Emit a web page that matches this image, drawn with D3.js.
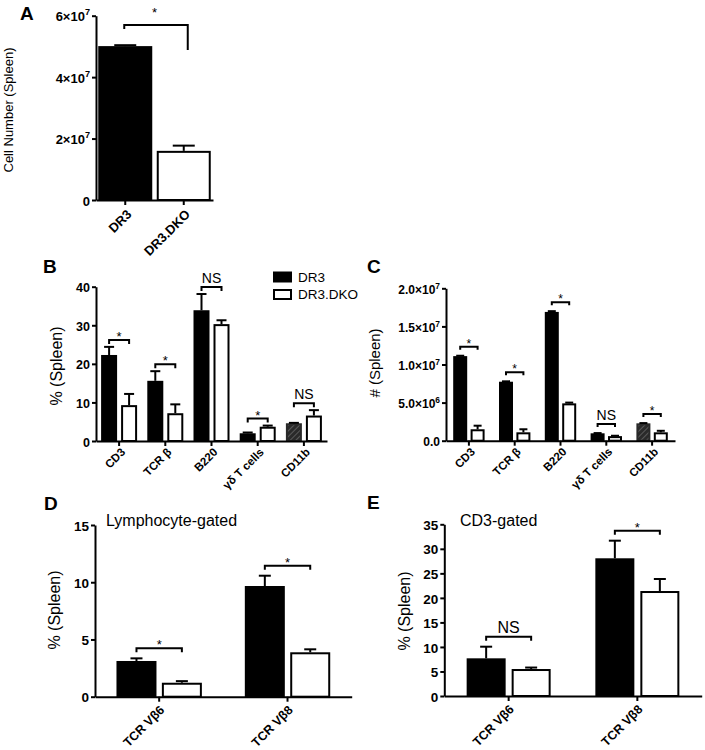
<!DOCTYPE html>
<html>
<head>
<meta charset="utf-8">
<script src="https://cdn.jsdelivr.net/npm/d3@7"></script>
<style>
  html, body { margin: 0; padding: 0; background: #fff; }
  svg { display: block; }
</style>
</head>
<body>
<svg id="chart" width="705" height="750"></svg>
<script>
// ---------------- DATA ----------------
const groups = ["DR3", "DR3.DKO"];

// Panel A
const catsA = ["DR3", "DR3.DKO"];
const valuesA = [5.01e7, 1.60e7];
const errorsA = [0.03e7, 0.17e7];
const ticksA = [0, 2e7, 4e7, 6e7];
const tickLabelsA = ["0", "2×10^7", "4×10^7", "6×10^7"];
const sigA = "*";

// Panel B (% of spleen)
const catsBC = ["CD3", "TCR β", "B220", "γδ T cells", "CD11b"];
const dr3B = [22.3, 15.6, 33.9, 2.0, 4.6];
const dr3ErrB = [2.1, 2.5, 4.2, 0.2, 0.1];
const dkoB = [9.3, 7.2, 30.3, 3.7, 6.6];
const dkoErrB = [2.9, 2.3, 1.0, 0.3, 1.4];
const sigB = ["*", "*", "NS", "*", "NS"];
const ticksB = [0, 10, 20, 30, 40];
const tickLabelsB = ["0", "10", "20", "30", "40"];

// Panel C (# spleen)
const dr3C = [1.11e7, 7.74e6, 1.69e7, 9.7e5, 2.28e6];
const dr3ErrC = [5e4, 5e4, 1e5, 3e4, 3e4];
const dkoC = [1.5e6, 1.1e6, 4.9e6, 6.0e5, 1.1e6];
const dkoErrC = [4.7e5, 4.0e5, 1e5, 5e4, 2e5];
const sigC = ["*", "*", "*", "NS", "*"];
const ticksC = [0, 5e6, 1e7, 1.5e7, 2e7];
const tickLabelsC = ["0.0", "5.0×10^6", "1.0×10^7", "1.5×10^7", "2.0×10^7"];

// Panel D (Lymphocyte-gated)
const catsDE = ["TCR Vβ6", "TCR Vβ8"];
const dr3D = [3.12, 9.67];
const dr3ErrD = [0.23, 0.90];
const dkoD = [1.22, 3.88];
const dkoErrD = [0.14, 0.26];
const sigD = ["*", "*"];
const ticksD = [0, 5, 10, 15];
const tickLabelsD = ["0", "5", "10", "15"];

// Panel E (CD3-gated)
const dr3E = [7.68, 28.07];
const dr3ErrE = [2.37, 3.59];
const dkoE = [5.5, 21.4];
const dkoErrE = [0.3, 2.45];
const sigE = ["NS", "*"];
const ticksE = [0, 5, 10, 15, 20, 25, 30, 35];
const tickLabelsE = ["0", "5", "10", "15", "20", "25", "30", "35"];

// hatched bar marker (CD11b DR3 bars)
const hatchedCats = ["CD11b"];

// ---------------- DRAW ----------------
const svg = d3.select("#chart");
const FONT = '"Liberation Sans", Arial, Helvetica, sans-serif';

const defs = svg.append("defs");
const pat = defs.append("pattern").attr("id", "hatch")
  .attr("patternUnits", "userSpaceOnUse").attr("width", 4).attr("height", 4)
  .attr("patternTransform", "rotate(45)");
pat.append("rect").attr("width", 4).attr("height", 4).attr("fill", "#2a2a2a");
pat.append("line").attr("x1", 0).attr("y1", 0).attr("x2", 0).attr("y2", 4)
  .attr("stroke", "#7a7a7a").attr("stroke-width", 1.2);

function writeLabel(sel, s, size) {
  sel.text(null);
  const parts = s.split("^");
  sel.append("tspan").style("font-size", size + "px").text(parts[0]);
  if (parts.length > 1) {
    sel.append("tspan").attr("dy", -size * 0.45).style("font-size", (size * 0.7) + "px").text(parts[1]);
  }
}

function panel(o) {
  const g = svg.append("g");
  const x = d3.scaleBand().domain(o.cats).range([o.x0, o.x1]);
  const y = d3.scaleLinear().domain([0, o.yMax]).range([o.yBase, o.yTop]);
  const sub = d3.scalePoint().domain(o.series.map(s => s.name)).range([-o.half, o.half]);
  const center = c => x(c) + x.bandwidth() / 2;

  // bars + upward error bars
  o.series.forEach((s) => {
    o.cats.forEach((c, i) => {
      const cx = center(c) + sub(s.name);
      const v = s.values[i], e = s.errors[i];
      if (v <= 0) return;
      const top = y(v), base = y(0);
      let fill = s.fill;
      if (s.fill === "#000" && o.hatched && o.hatched.includes(c)) fill = "url(#hatch)";
      g.append("rect")
        .attr("x", cx - o.barW / 2 + 1).attr("y", top + 1)
        .attr("width", o.barW - 2).attr("height", Math.max(0, base - top - 1))
        .attr("fill", fill)
        .attr("stroke", fill === "url(#hatch)" ? "#2a2a2a" : "#000").attr("stroke-width", 2);
      if (e > 0) {
        const et = y(v + e);
        g.append("line").attr("x1", cx).attr("x2", cx).attr("y1", top).attr("y2", et)
          .attr("stroke", "#000").attr("stroke-width", 2);
        g.append("line").attr("x1", cx - o.capW / 2).attr("x2", cx + o.capW / 2)
          .attr("y1", et).attr("y2", et).attr("stroke", "#000").attr("stroke-width", 2);
      }
    });
  });

  // y axis
  const ya = g.append("g").attr("transform", `translate(${o.x0},0)`)
    .call(d3.axisLeft(y).tickValues(o.ticks).tickSize(4).tickSizeOuter(0).tickPadding(2)
      .tickFormat((d, i) => o.tickLabels[i]));
  ya.attr("font-size", null).attr("font-family", null);
  ya.select(".domain").attr("stroke-width", 2).attr("stroke", "#000");
  ya.selectAll(".tick line").attr("stroke-width", 2).attr("stroke", "#000");
  ya.selectAll(".tick text")
    .style("font-family", FONT).style("font-weight", "bold").attr("fill", "#000")
    .each(function (d, i) { writeLabel(d3.select(this), o.tickLabels[i], o.tickFont); });

  // x axis
  const xa = g.append("g").attr("transform", `translate(0,${o.yBase})`)
    .call(d3.axisBottom(x).tickSize(5).tickSizeOuter(0).tickFormat(""));
  xa.select(".domain").attr("stroke-width", 2).attr("stroke", "#000");
  xa.selectAll(".tick line").attr("stroke-width", 2).attr("stroke", "#000");

  // x labels (rotated -45 degrees, ending under each tick)
  o.cats.forEach(c => {
    const ax = center(c) + o.lblDx, ay = o.yBase + o.lblDy;
    g.append("text")
      .attr("x", ax).attr("y", ay)
      .attr("transform", "rotate(-45 " + ax + " " + ay + ")")
      .attr("text-anchor", "end").attr("dy", "0.35em")
      .style("font-family", FONT).style("font-size", o.xFont + "px").style("font-weight", "bold")
      .text(c);
  });

  // y title
  g.append("text")
    .attr("transform", `translate(${o.yTitleX},${o.yTitleY}) rotate(-90)`)
    .attr("text-anchor", "middle")
    .style("font-family", FONT).style("font-size", o.yTitleFont + "px").text(o.yTitle);

  // significance brackets
  if (o.sig) {
    o.cats.forEach((c, i) => {
      const x1 = center(c) + sub(o.series[0].name);
      const x2 = center(c) + sub(o.series[1].name);
      const tops = o.series.map(s => y(s.values[i] + s.errors[i]));
      const by = Math.min(...tops) - o.sigOff;
      g.append("path")
        .attr("d", `M${x1},${by + o.legL}V${by}H${x2}V${by + o.legR}`)
        .attr("fill", "none").attr("stroke", "#000").attr("stroke-width", 2);
      const s = o.sig[i];
      g.append("text").attr("x", (x1 + x2) / 2)
        .attr("y", s === "*" ? by + o.starDy : by - 4)
        .attr("text-anchor", "middle")
        .style("font-family", FONT)
        .style("font-size", (s === "*" ? o.starFont : o.nsFont) + "px").text(s);
    });
  }

  if (o.title) {
    g.append("text").attr("x", o.titleX).attr("y", o.titleY)
      .style("font-family", FONT).style("font-size", "16px").text(o.title);
  }
  return { x, y };
}

// Panel A
panel({
  cats: catsA, x0: 96, x1: 213, yBase: 200, yTop: 15.7, yMax: 6e7,
  series: [{ name: "A", values: valuesA.map((v, i) => i === 0 ? v : 0), errors: errorsA.map((e, i) => i === 0 ? e : 0), fill: "#000" },
           { name: "B", values: valuesA.map((v, i) => i === 1 ? v : 0), errors: errorsA.map((e, i) => i === 1 ? e : 0), fill: "#fff" }],
  half: 0, barW: 54, capW: 22,
  ticks: ticksA, tickLabels: tickLabelsA, tickFont: 13,
  xFont: 13, lblDx: 4, lblDy: 12,
  yTitle: "Cell Number (Spleen)", yTitleX: 12.5, yTitleY: 110, yTitleFont: 13
});

// Panel B
panel({
  cats: catsBC, x0: 96, x1: 327, yBase: 441, yTop: 286.7, yMax: 40,
  series: [{ name: groups[0], values: dr3B, errors: dr3ErrB, fill: "#000" },
           { name: groups[1], values: dkoB, errors: dkoErrB, fill: "#fff" }],
  half: 10, barW: 16, capW: 10, hatched: hatchedCats,
  ticks: ticksB, tickLabels: tickLabelsB, tickFont: 12.5,
  xFont: 11.5, lblDx: 4, lblDy: 9,
  yTitle: "% (Spleen)", yTitleX: 62, yTitleY: 366, yTitleFont: 16,
  sig: sigB, sigOff: 7, legL: 4, legR: 4, starDy: 1, starFont: 13, nsFont: 14
});

// Panel C
panel({
  cats: catsBC, x0: 446, x1: 675, yBase: 440.7, yTop: 288.3, yMax: 2e7,
  series: [{ name: groups[0], values: dr3C, errors: dr3ErrC, fill: "#000" },
           { name: groups[1], values: dkoC, errors: dkoErrC, fill: "#fff" }],
  half: 8.7, barW: 14, capW: 8, hatched: hatchedCats,
  ticks: ticksC, tickLabels: tickLabelsC, tickFont: 12,
  xFont: 11.5, lblDx: 4, lblDy: 9,
  yTitle: "# (Spleen)", yTitleX: 380, yTitleY: 363, yTitleFont: 15,
  sig: sigC, sigOff: 9, legL: 3, legR: 3, starDy: 1, starFont: 12, nsFont: 14
});

// Panel D
panel({
  cats: catsDE, x0: 95, x1: 351.7, yBase: 696.7, yTop: 525, yMax: 15,
  series: [{ name: groups[0], values: dr3D, errors: dr3ErrD, fill: "#000" },
           { name: groups[1], values: dkoD, errors: dkoErrD, fill: "#fff" }],
  half: 22.7, barW: 40, capW: 12,
  ticks: ticksD, tickLabels: tickLabelsD, tickFont: 13.5,
  xFont: 12.5, lblDx: 3, lblDy: 11,
  yTitle: "% (Spleen)", yTitleX: 60, yTitleY: 610, yTitleFont: 16,
  sig: sigD, sigOff: 10, legL: 4, legR: 4, starDy: 1, starFont: 13, nsFont: 15,
  title: "Lymphocyte-gated", titleX: 106, titleY: 526
});

// Panel E
panel({
  cats: catsDE, x0: 444.3, x1: 701.7, yBase: 696, yTop: 524.3, yMax: 35,
  series: [{ name: groups[0], values: dr3E, errors: dr3ErrE, fill: "#000" },
           { name: groups[1], values: dkoE, errors: dkoErrE, fill: "#fff" }],
  half: 22.5, barW: 39, capW: 12,
  ticks: ticksE, tickLabels: tickLabelsE, tickFont: 13.5,
  xFont: 12.5, lblDx: 3, lblDy: 11,
  yTitle: "% (Spleen)", yTitleX: 410, yTitleY: 611, yTitleFont: 16,
  sig: sigE, sigOff: 10, legL: 4, legR: 4, starDy: 1, starFont: 13, nsFont: 16,
  title: "CD3-gated", titleX: 460, titleY: 526
});

// Panel A significance bracket (long right leg)
{
  const xA = d3.scaleBand().domain(catsA).range([96, 213]);
  const c1 = xA(catsA[0]) + xA.bandwidth() / 2, c2 = xA(catsA[1]) + xA.bandwidth() / 2;
  svg.append("path").attr("d", `M${c1 - 1},29V25H${c2 + 4}V50`)
    .attr("fill", "none").attr("stroke", "#000").attr("stroke-width", 2);
  svg.append("text").attr("x", (c1 + c2) / 2).attr("y", 17).attr("text-anchor", "middle")
    .style("font-family", FONT).style("font-size", "13px").text(sigA);
}

// Legend (panel B)
const leg = svg.append("g").attr("transform", "translate(273,271.5)");
groups.forEach((gname, i) => {
  leg.append("rect").attr("x", 1).attr("y", i * 17.5 + 1).attr("width", 17).attr("height", 9)
    .attr("fill", i === 0 ? "#000" : "#fff").attr("stroke", "#000").attr("stroke-width", 2);
  leg.append("text").attr("x", 25).attr("y", i * 17.5 + 10)
    .style("font-family", FONT).style("font-size", "13.5px").text(gname);
});

// Panel letters
[["A", 20, 20], ["B", 43, 273], ["C", 367, 273], ["D", 44, 510], ["E", 367, 509]].forEach(([t, x, y]) => {
  svg.append("text").attr("x", x).attr("y", y)
    .style("font-family", FONT).style("font-size", "19px").style("font-weight", "bold").text(t);
});
</script>
</body>
</html>
